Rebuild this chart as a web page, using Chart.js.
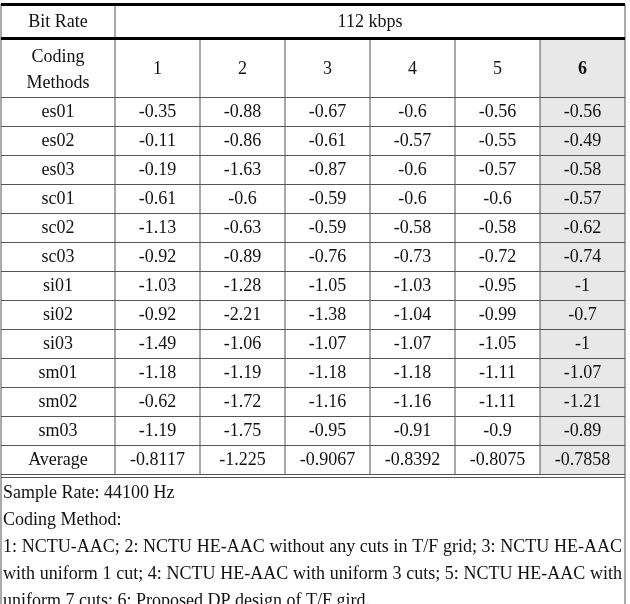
<!DOCTYPE html>
<html><head><meta charset="utf-8">
<script src="https://cdn.jsdelivr.net/npm/chart.js@4"></script>
<style>html,body{margin:0;padding:0;background:#fff}</style>
</head><body>
<div style="width:630px;height:604px"><canvas id="myChart"></canvas></div>
<script>
var bitRate = '112 kbps';
var methods = ['1', '2', '3', '4', '5', '6'];
var rows = ['es01','es02','es03','sc01','sc02','sc03','si01','si02','si03','sm01','sm02','sm03','Average'];
var m1 = [-0.35,-0.11,-0.19,-0.61,-1.13,-0.92,-1.03,-0.92,-1.49,-1.18,-0.62,-1.19,-0.8117];
var m2 = [-0.88,-0.86,-1.63,-0.6,-0.63,-0.89,-1.28,-2.21,-1.06,-1.19,-1.72,-1.75,-1.225];
var m3 = [-0.67,-0.61,-0.87,-0.59,-0.59,-0.76,-1.05,-1.38,-1.07,-1.18,-1.16,-0.95,-0.9067];
var m4 = [-0.6,-0.57,-0.6,-0.6,-0.58,-0.73,-1.03,-1.04,-1.07,-1.18,-1.16,-0.91,-0.8392];
var m5 = [-0.56,-0.55,-0.57,-0.6,-0.58,-0.72,-0.95,-0.99,-1.05,-1.11,-1.11,-0.9,-0.8075];
var m6 = [-0.56,-0.49,-0.58,-0.57,-0.62,-0.74,-1,-0.7,-1,-1.07,-1.21,-0.89,-0.7858];
var notes = [
  'Sample Rate: 44100 Hz',
  'Coding Method:',
  '1: NCTU-AAC; 2: NCTU HE-AAC without any cuts in T/F grid; 3: NCTU HE-AAC',
  'with uniform 1 cut; 4: NCTU HE-AAC with uniform 3 cuts; 5: NCTU HE-AAC with',
  'uniform 7 cuts; 6: Proposed DP design of T/F gird.'
];
var justified = [false, false, true, true, false];
var series = [m1, m2, m3, m4, m5, m6];

// layout
var colEdges = [1, 115, 200, 285, 370, 455, 540, 625];
var rowTop = 97, rowH = 29;
var FONT = '18px "Liberation Serif", serif';

var tablePlugin = {
  id: 'table',
  afterDraw: function(chart) {
    var ctx = chart.ctx, xs = chart.scales.x, ys = chart.scales.y;
    var X = function(v){ return xs.getPixelForValue(v); };
    var Y = function(v){ return ys.getPixelForValue(v); };
    var bottom = rowTop + rowH * rows.length;
    ctx.save();
    ctx.fillStyle = '#e8e8e8';
    ctx.fillRect(X(colEdges[6]), Y(40), X(colEdges[7]) - X(colEdges[6]), Y(bottom) - Y(40));
    ctx.strokeStyle = '#555'; ctx.lineWidth = 1;
    ctx.beginPath();
    ctx.moveTo(X(colEdges[0]), Y(4)); ctx.lineTo(X(colEdges[0]), Y(604));
    ctx.moveTo(X(colEdges[7]), Y(4)); ctx.lineTo(X(colEdges[7]), Y(604));
    ctx.moveTo(X(colEdges[1]), Y(4)); ctx.lineTo(X(colEdges[1]), Y(bottom));
    for (var c = 2; c < 7; c++) { ctx.moveTo(X(colEdges[c]), Y(40)); ctx.lineTo(X(colEdges[c]), Y(bottom)); }
    for (var r = 0; r <= rows.length; r++) {
      ctx.moveTo(X(colEdges[0]), Y(rowTop + r * rowH) + 0.5); ctx.lineTo(X(colEdges[7]), Y(rowTop + r * rowH) + 0.5);
    }
    ctx.moveTo(X(colEdges[0]), Y(bottom) + 3.5); ctx.lineTo(X(colEdges[7]), Y(bottom) + 3.5);
    ctx.stroke();
    ctx.strokeStyle = '#000'; ctx.lineWidth = 3;
    ctx.beginPath();
    ctx.moveTo(X(colEdges[0]), Y(4.5)); ctx.lineTo(X(colEdges[7]), Y(4.5));
    ctx.moveTo(X(colEdges[0]), Y(38.5)); ctx.lineTo(X(colEdges[7]), Y(38.5));
    ctx.stroke();
    ctx.fillStyle = '#111'; ctx.textAlign = 'center'; ctx.textBaseline = 'middle';
    ctx.font = FONT;
    var cx = function(c){ return (X(colEdges[c]) + X(colEdges[c + 1])) / 2; };
    ctx.fillText('Bit Rate', cx(0), Y(22));
    ctx.fillText(bitRate, (X(colEdges[1]) + X(colEdges[7])) / 2, Y(22));
    ctx.fillText('Coding', cx(0), Y(57));
    ctx.fillText('Methods', cx(0), Y(83));
    for (var m = 0; m < methods.length; m++) {
      ctx.font = (m === 5 ? 'bold ' : '') + FONT;
      ctx.fillText(methods[m], cx(m + 1), Y(69));
    }
    ctx.font = FONT;
    for (var i = 0; i < rows.length; i++) {
      var yy = Y(rowTop + i * rowH + rowH / 2 + 1);
      ctx.fillText(rows[i], cx(0), yy);
      for (var s = 0; s < series.length; s++) ctx.fillText(String(series[s][i]), cx(s + 1), yy);
    }
    ctx.textAlign = 'left';
    var left = X(3), right = X(622);
    for (var n = 0; n < notes.length; n++) {
      var ny = Y(493 + n * 27);
      if (!justified[n]) { ctx.fillText(notes[n], left, ny); continue; }
      var words = notes[n].split(' ');
      var total = 0;
      words.forEach(function(w){ total += ctx.measureText(w).width; });
      var gap = (right - left - total) / (words.length - 1), px = left;
      words.forEach(function(w){ ctx.fillText(w, px, ny); px += ctx.measureText(w).width + gap; });
    }
    ctx.restore();
  }
};

new Chart(document.getElementById('myChart').getContext('2d'), {
  type: 'scatter',
  data: { datasets: [{ data: [] }] },
  options: {
    responsive: true, maintainAspectRatio: false, animation: false,
    layout: { padding: 0 },
    plugins: { legend: { display: false }, tooltip: { enabled: false } },
    scales: {
      x: { type: 'linear', min: 0, max: 630, display: false },
      y: { type: 'linear', min: 0, max: 604, reverse: true, display: false }
    }
  },
  plugins: [tablePlugin]
});
</script>
</body></html>
